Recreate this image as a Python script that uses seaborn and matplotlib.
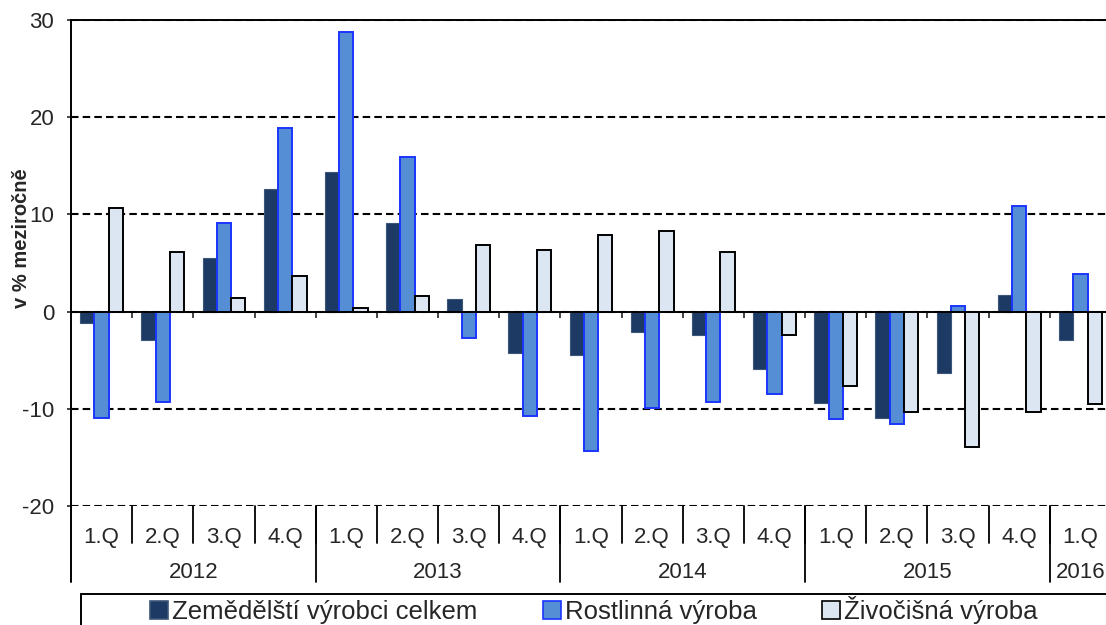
# Zemědělští výrobci - meziroční změny (čtvrtletně)
import numpy as np
import pandas as pd
import matplotlib.pyplot as plt
from matplotlib.patches import Patch, Rectangle
import seaborn as sns

# data
quarters = ['1.Q', '2.Q', '3.Q', '4.Q'] * 4 + ['1.Q']
years = ['2012', '2013', '2014', '2015', '2016']
year_sizes = [4, 4, 4, 4, 1]

celkem = [-1.2, -2.9, 5.5, 12.6, 14.4, 9.1, 1.3, -4.3,
          -4.5, -2.1, -2.4, -5.9, -9.4, -10.9, -6.3, 1.7, -2.9]
rostlinna = [-10.9, -9.3, 9.1, 18.9, 28.8, 15.9, -2.7, -10.7,
             -14.3, -9.9, -9.3, -8.5, -11.0, -11.6, 0.6, 10.9, 3.9]
zivocisna = [10.7, 6.1, 1.4, 3.7, 0.4, 1.6, 6.9, 6.3,
             7.9, 8.3, 6.1, -2.4, -7.7, -10.3, -13.9, -10.3, -9.5]

series = ['Zemědělští výrobci celkem', 'Rostlinná výroba', 'Živočišná výroba']
face_colors = ['#1C3A63', '#558ED5', '#DCE6F2']
edge_colors = ['#3C5578', '#1A35FF', '#000000']

# long table for seaborn
periods = []
for y, n in zip(years, year_sizes):
    periods += [y] * n
period_ids = [f'{y} {q}' for y, q in zip(periods, quarters)]

df = pd.DataFrame({
    'obdobi': period_ids * 3,
    'hodnota': celkem + rostlinna + zivocisna,
    'rada': [series[0]] * 17 + [series[1]] * 17 + [series[2]] * 17,
})

sns.set_style('white')
plt.rcParams['font.family'] = ['Liberation Sans', 'DejaVu Sans']
plt.rcParams['axes.unicode_minus'] = False

W, H = 1106, 625
fig = plt.figure(figsize=(W / 100, H / 100), dpi=100)
ax = fig.add_axes([71 / W, 1 - 506 / H, (1111 - 71) / W, 486 / H])

sns.barplot(data=df, x='obdobi', y='hodnota', hue='rada', order=period_ids,
            hue_order=series, palette=face_colors, saturation=1, width=0.7,
            legend=False, ax=ax, zorder=3)

for cont, ec in zip(ax.containers, edge_colors):
    for bar in cont:
        bar.set_edgecolor(ec)
        bar.set_linewidth(1.4 if ec != edge_colors[0] else 0.8)

ax.set_xlim(-0.5, 16.5)
ax.set_ylim(-20, 30)
ax.set_yticks([-20, -10, 0, 10, 20, 30])
ax.tick_params(axis='y', labelsize=16, length=3, width=1.2, pad=9, left=True,
               direction='out')
ax.set_xlabel('')
ax.set_ylabel('')

# gridlines
ax.set_axisbelow(True)
ax.grid(axis='y', color='black', linestyle=(0, (3.6, 2.0)), linewidth=1.5)
ax.grid(axis='x', visible=False)

# spines: zero line as x axis
for s in ['left', 'top', 'bottom', 'right']:
    ax.spines[s].set_color('black')
    ax.spines[s].set_linewidth(1.4)
ax.spines['bottom'].set_position(('data', 0))
ax.spines['bottom'].set_zorder(5)
ax.set_xticks(np.arange(0.5, 16.5, 1))
ax.set_xticklabels([])
ax.tick_params(axis='x', bottom=True, length=4, width=1.2, direction='out')

# two-level category axis below the plot
tr = ax.get_xaxis_transform()
for i, q in enumerate(quarters):
    ax.text(i, -0.064, q, transform=tr, ha='center', va='center', fontsize=16)
    if i > 0:
        ax.plot([i - 0.5, i - 0.5], [0, -0.076], transform=tr, color='black',
                lw=1.3, clip_on=False)

ax.plot([-0.5, -0.5], [0, -0.156], transform=tr, color='black', lw=1.4,
        clip_on=False)
start = 0
for y, n in zip(years, year_sizes):
    ax.text(start + (n - 1) / 2, -0.136, y, transform=tr, ha='center',
            va='center', fontsize=16)
    end = start + n
    ax.plot([end - 0.5, end - 0.5], [0, -0.156], transform=tr, color='black',
            lw=1.3, clip_on=False)
    start = end

fig.text(22 / W, 1 - 238 / H, 'v % meziročně', rotation=90, ha='center',
         va='center', fontsize=14.5, fontweight='bold')

# legend
handles = [Patch(facecolor=fc, edgecolor=ec, linewidth=1.2)
           for fc, ec in zip(face_colors, edge_colors)]
fig.legend(handles, series, loc='center left',
           bbox_to_anchor=(140 / W, 1 - 610 / H), ncol=3, frameon=False,
           fontsize=18.5, handlelength=0.7, handleheight=0.7,
           handletextpad=0.15, columnspacing=2.55, borderaxespad=0)
fig.patches.append(Rectangle((81 / W, -0.1), 1.1, 1 - 594 / H + 0.1,
                             transform=fig.transFigure, fill=False,
                             edgecolor='black', lw=1.4))

fig.savefig('out.png', dpi=100)
